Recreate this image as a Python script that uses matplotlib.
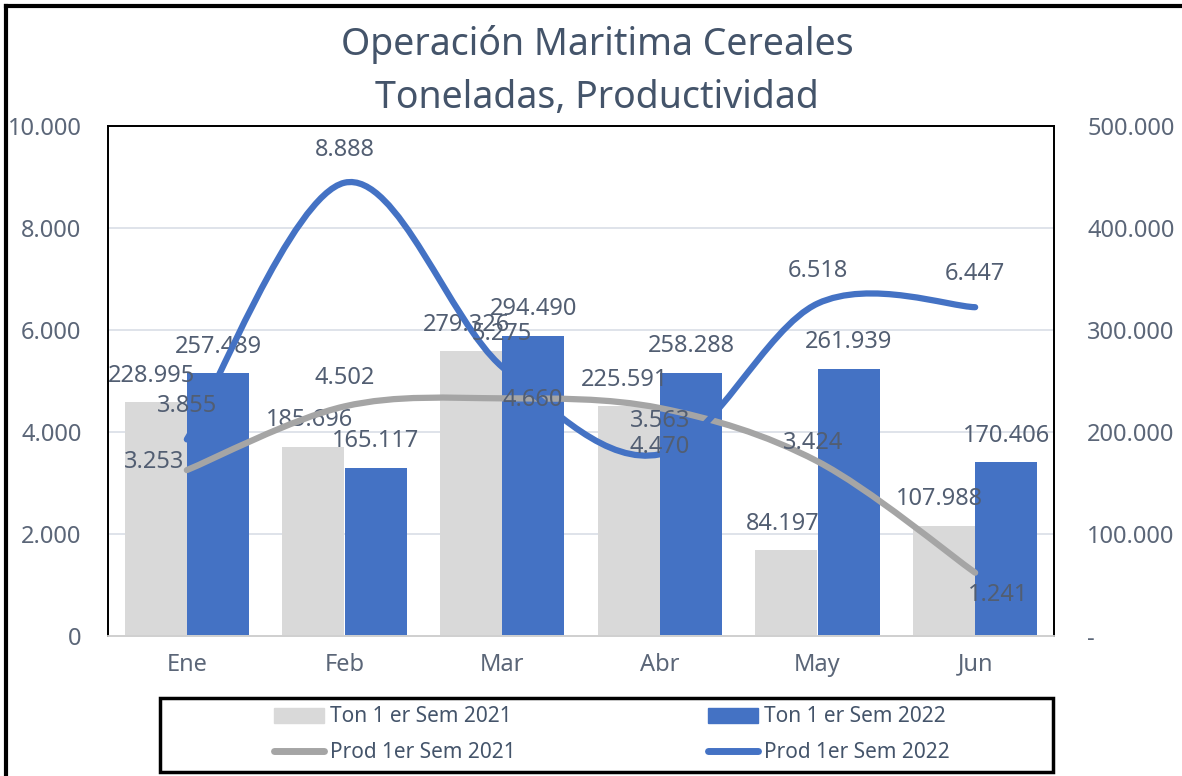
import matplotlib.pyplot as plt
from matplotlib.path import Path
from matplotlib.patches import PathPatch, Rectangle, Patch
from matplotlib.lines import Line2D
from matplotlib.ticker import FuncFormatter, MultipleLocator

plt.rcParams['font.family'] = ['Noto Sans', 'DejaVu Sans']

meses = ['Ene', 'Feb', 'Mar', 'Abr', 'May', 'Jun']
ton_2021 = [228995, 185696, 279326, 225591, 84197, 107988]
ton_2022 = [257489, 165117, 294490, 258288, 261939, 170406]
prod_2021 = [3253, 4502, 4660, 4470, 3424, 1241]
prod_2022 = [3855, 8888, 5275, 3563, 6518, 6447]

GRIS = '#D9D9D9'
AZUL = '#4472C4'
GRIS_LINEA = '#A5A5A5'
TXT = '#44546A'
LBL = '#525E72'
FS = 17


def miles(v):
    return f'{v:,.0f}'.replace(',', '.')


def curva(xs, ys):
    # suavizado tipo Excel (bezier con tangentes de vecinos)
    n = len(xs)
    verts = [(xs[0], ys[0])]
    codes = [Path.MOVETO]
    for i in range(n - 1):
        a = max(i - 1, 0)
        b = min(i + 2, n - 1)
        c1 = (xs[i] + (xs[i + 1] - xs[a]) / 6, ys[i] + (ys[i + 1] - ys[a]) / 6)
        c2 = (xs[i + 1] - (xs[b] - xs[i]) / 6, ys[i + 1] - (ys[b] - ys[i]) / 6)
        verts += [c1, c2, (xs[i + 1], ys[i + 1])]
        codes += [Path.CURVE4] * 3
    return Path(verts, codes)


fig = plt.figure(figsize=(11.82, 7.76), dpi=100)
ax2 = fig.add_axes([108 / 1182, 1 - 636 / 776, 946 / 1182, 510 / 776])
ax = ax2.twinx()
# eje de barras a la derecha, eje de lineas a la izquierda
ax2.yaxis.tick_right()
ax.yaxis.tick_left()
ax.set_zorder(ax2.get_zorder() + 1)
ax.patch.set_visible(False)

x = list(range(len(meses)))
w = 0.395
ax2.bar([i - w / 2 for i in x], ton_2021, w, color=GRIS, zorder=2)
ax2.bar([i + w / 2 for i in x], ton_2022, w, color=AZUL, zorder=2)
ax2.set_ylim(0, 500000)
ax2.set_xlim(-0.5, len(meses) - 0.5)
ax2.yaxis.set_major_locator(MultipleLocator(100000))
ax2.yaxis.set_major_formatter(FuncFormatter(lambda v, p: '-' if v == 0 else miles(v)))
ax2.grid(axis='y', color='#DCE1E8', lw=1.3, zorder=0)
ax2.set_xticks(x)
ax2.set_xticklabels(meses, fontsize=14, color=TXT)

for i in x:
    ax2.annotate(miles(ton_2021[i]), (i - w / 2, ton_2021[i]), xytext=(-3, 19),
                 textcoords='offset points', ha='center', va='center', fontsize=FS, color=LBL)
    ax2.annotate(miles(ton_2022[i]), (i + w / 2, ton_2022[i]), xytext=(0, 19),
                 textcoords='offset points', ha='center', va='center', fontsize=FS, color=LBL)

ax.add_patch(PathPatch(curva(x, prod_2021), fill=False, ec=GRIS_LINEA, lw=4.5, capstyle='round'))
ax.add_patch(PathPatch(curva(x, prod_2022), fill=False, ec=AZUL, lw=4.5, capstyle='round'))
ax.set_ylim(0, 10000)
ax.yaxis.set_major_locator(MultipleLocator(2000))
ax.yaxis.set_major_formatter(FuncFormatter(lambda v, p: miles(v)))

# desplazamientos de etiquetas (px)
off_2021 = [(-33, 8), (0, 28), (31, -2), (0, -39), (-4, 18), (23, -22)]
for i in x:
    dx, dy = off_2021[i]
    ax.annotate(miles(prod_2021[i]), (i, prod_2021[i]), xytext=(dx * 0.72, dy * 0.72),
                textcoords='offset points', ha='center', va='center', fontsize=FS, color=LBL)
    ax.annotate(miles(prod_2022[i]), (i, prod_2022[i]), xytext=(0, 33 * 0.72),
                textcoords='offset points', ha='center', va='center', fontsize=FS, color=LBL)

for a in (ax, ax2):
    a.tick_params(length=0, labelsize=FS, labelcolor='#5B6678')
    for s in ('top', 'left', 'right'):
        a.spines[s].set_color('black')
        a.spines[s].set_linewidth(1.3)
    a.spines['bottom'].set_color('#D0D0D0')
    a.spines['bottom'].set_linewidth(1.3)
ax.tick_params(axis='y', pad=19)
ax2.tick_params(axis='y', pad=24)
ax2.tick_params(axis='x', pad=12)

fig.text(597 / 1182, 1 - 45 / 776, 'Operación Maritima Cereales', ha='center', va='center',
         fontsize=27, color=TXT)
fig.text(597 / 1182, 1 - 98 / 776, 'Toneladas, Productividad', ha='center', va='center',
         fontsize=27, color=TXT)

handles = [Patch(color=GRIS),
           Line2D([], [], color=GRIS_LINEA, lw=5, solid_capstyle='round'),
           Patch(color=AZUL),
           Line2D([], [], color=AZUL, lw=5, solid_capstyle='round')]
labels = ['Ton 1 er Sem 2021', 'Prod 1er Sem 2021', 'Ton 1 er Sem 2022', 'Prod 1er Sem 2022']
leg = fig.legend(handles, labels, loc='center', bbox_to_anchor=(612 / 1182, 1 - 735 / 776),
                 ncol=2, frameon=False, fontsize=15, handlelength=2.4, handleheight=0.7,
                 handletextpad=0.3, columnspacing=9.2, labelspacing=0.72)
for t in leg.get_texts():
    t.set_color(TXT)

fig.patches.append(Rectangle((160 / 1182, 1 - 772 / 776), 893 / 1182, 74 / 776,
                             transform=fig.transFigure, fill=False, ec='black', lw=2.5))
fig.lines.append(Line2D([6 / 1182, 6 / 1182], [0, 1 - 6 / 776], transform=fig.transFigure,
                        color='black', lw=3))
fig.lines.append(Line2D([6 / 1182, 1], [1 - 6 / 776, 1 - 6 / 776], transform=fig.transFigure,
                        color='black', lw=3))

fig.savefig('out.png', dpi=100)
